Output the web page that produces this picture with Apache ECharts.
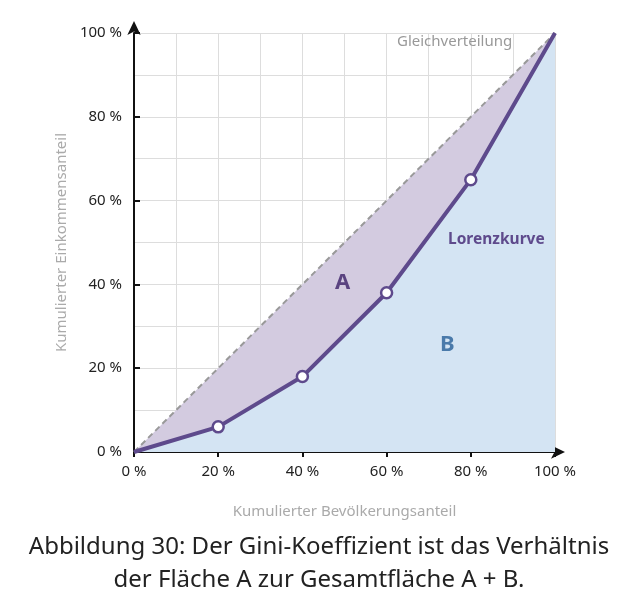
<!DOCTYPE html>
<html>
<head>
<meta charset="utf-8">
<script src="https://cdn.jsdelivr.net/npm/echarts@6/dist/echarts.min.js"></script>
<style>html,body{margin:0;padding:0;background:#fff}#main{width:638px;height:616px}</style>
</head>
<body>
<div id="main"></div>
<script>
// Kumulierte Anteile in Prozent
var bevoelkerung = [0, 20, 40, 60, 80, 100];
var gleichverteilung = [0, 20, 40, 60, 80, 100];
var lorenzkurve = [0, 6, 18, 38, 65, 100];

var font = 'Noto Sans';
var chart = echarts.init(document.getElementById('main'));

function pairs(ys) {
    return bevoelkerung.map(function (x, i) { return [x, ys[i]]; });
}

chart.setOption({
    animation: false,
    textStyle: { fontFamily: font },
    grid: { left: 134, right: 83, top: 33, bottom: 164 },
    xAxis: {
        type: 'value', min: 0, max: 100, interval: 20,
        name: 'Kumulierter Bevölkerungsanteil', nameLocation: 'middle', nameGap: 52,
        nameTextStyle: { color: '#aaa', fontSize: 15, fontFamily: font },
        axisLine: { show: true, onZero: false, symbol: ['none', 'arrow'], symbolSize: [10, 14], symbolOffset: [0, 10], lineStyle: { color: '#111', width: 2 } },
        axisTick: { show: true, length: 5, lineStyle: { color: '#111', width: 2 } },
        axisLabel: { color: '#222', fontSize: 15, margin: 12, formatter: '{value} %' },
        splitLine: { show: true, lineStyle: { color: '#ddd' } },
        minorTick: { show: false, splitNumber: 2 },
        minorSplitLine: { show: true, lineStyle: { color: '#ddd' } }
    },
    yAxis: {
        type: 'value', min: 0, max: 100, interval: 20,
        name: 'Kumulierter Einkommensanteil', nameLocation: 'middle', nameGap: 58,
        nameTextStyle: { color: '#aaa', fontSize: 15, fontFamily: font },
        axisLine: { show: true, onZero: false, symbol: ['none', 'arrow'], symbolSize: [10, 14], symbolOffset: [0, 12], lineStyle: { color: '#111', width: 2 } },
        axisTick: { show: true, inside: true, length: 6, lineStyle: { color: '#111', width: 2 } },
        axisLabel: { color: '#222', fontSize: 15, margin: 12, formatter: '{value} %' },
        splitLine: { show: true, lineStyle: { color: '#ddd' } },
        minorTick: { show: false, splitNumber: 2 },
        minorSplitLine: { show: true, lineStyle: { color: '#ddd' } }
    },
    series: [
        {
            name: 'Gleichverteilung', type: 'line', data: pairs(gleichverteilung),
            symbol: 'none', z: 2,
            lineStyle: { color: '#999', width: 2, type: [6, 4] },
            areaStyle: { color: '#d3cbe0', opacity: 1 }
        },
        {
            name: 'Lorenzkurve', type: 'line', data: pairs(lorenzkurve),
            symbol: function (v) { return (v[0] === 0 || v[0] === 100) ? 'none' : 'circle'; },
            symbolSize: 11, z: 3,
            itemStyle: { color: '#fff', borderColor: '#5e4a8c', borderWidth: 2.5 },
            lineStyle: { color: '#5e4a8c', width: 4 },
            areaStyle: { color: '#d4e4f3', opacity: 1 }
        }
    ],
    graphic: [
        { type: 'text', left: 397, top: 34, z: 10, style: { text: 'Gleichverteilung', fill: '#999', font: '15px "Noto Sans"' } },
        { type: 'text', left: 448, top: 232, z: 10, style: { text: 'Lorenzkurve', fill: '#5e4a8c', font: 'bold 15.5px "Noto Sans"' } },
        { type: 'text', left: 335, top: 272, z: 10, style: { text: 'A', fill: '#5a4380', font: 'bold 22px "Noto Sans"' } },
        { type: 'text', left: 440, top: 334, z: 10, style: { text: 'B', fill: '#4a7aaa', font: 'bold 22px "Noto Sans"' } },
        { type: 'text', left: 'center', top: 531, z: 10, style: { text: 'Abbildung 30: Der Gini-Koeffizient ist das Verhältnis\nder Fläche A zur Gesamtfläche A + B.', fill: '#222', font: '24px "Noto Sans"', textAlign: 'center', lineHeight: 33 } }
    ]
});
</script>
</body>
</html>
